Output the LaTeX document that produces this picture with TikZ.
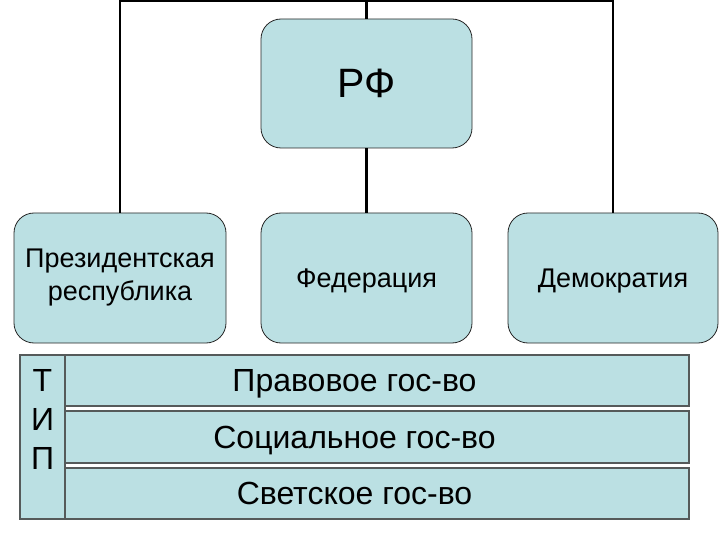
\documentclass[tikz,border=0pt]{standalone}
\usepackage{fontspec}
\setmainfont{Liberation Sans}
\definecolor{boxfill}{RGB}{187,224,227}
\definecolor{rowline}{RGB}{85,90,90}
\begin{document}
\begin{tikzpicture}[x=1pt, y=-1pt,
                    roundbox/.style={draw=black!85, fill=boxfill, rounded corners=20pt,
                                     line width=0.8pt, align=center, inner sep=0pt,
                                     font=\fontsize{27}{33}\selectfont},
                    rowbox/.style={draw=rowline, fill=boxfill, line width=1.3pt,
                                   minimum width=669pt, inner sep=0pt, text depth=0pt,
                                   font=\fontsize{32}{38}\selectfont},
                    link/.style={line width=2.4pt}]
    \useasboundingbox (0,0) rectangle (720,540);
    \node[roundbox, minimum width=211pt, minimum height=129pt,
          font=\fontsize{41}{46}\selectfont] (rf) at (366.5,83.5) {РФ};
    \node[roundbox, minimum width=212pt, minimum height=130pt] (pres) at (120,278) {Президентская\\республика};
    \node[roundbox, minimum width=211pt, minimum height=130pt, text depth=0pt] (fed) at (366.5,278) {Федерация};
    \node[roundbox, minimum width=210pt, minimum height=130pt, text depth=0pt] (dem) at (613,278) {Демократия};
    \coordinate (bus) at (366.5,1);
    \draw[link] (pres.north) |- (bus) -| (dem.north);
    \draw[link] (bus) -- (rf.north);
    \draw[link] (rf.south) -- (fed.north);
    % types
    \node[rowbox, minimum height=51pt] (prav) at (354.5,380.5) {Правовое гос-во};
    \node[rowbox, minimum height=52pt] (soc) at (354.5,437) {Социальное гос-во};
    \node[rowbox, minimum height=51pt] (svet) at (354.5,493.5) {Светское гос-во};
    \node[rowbox, minimum width=45pt, minimum height=164pt] (tip) at (42.5,437) {};
    \node[align=center, inner sep=0pt, font=\fontsize{32}{39}\selectfont]
        (tiptext) at (42.5,419) {Т\\И\\П};
\end{tikzpicture}
\end{document}
